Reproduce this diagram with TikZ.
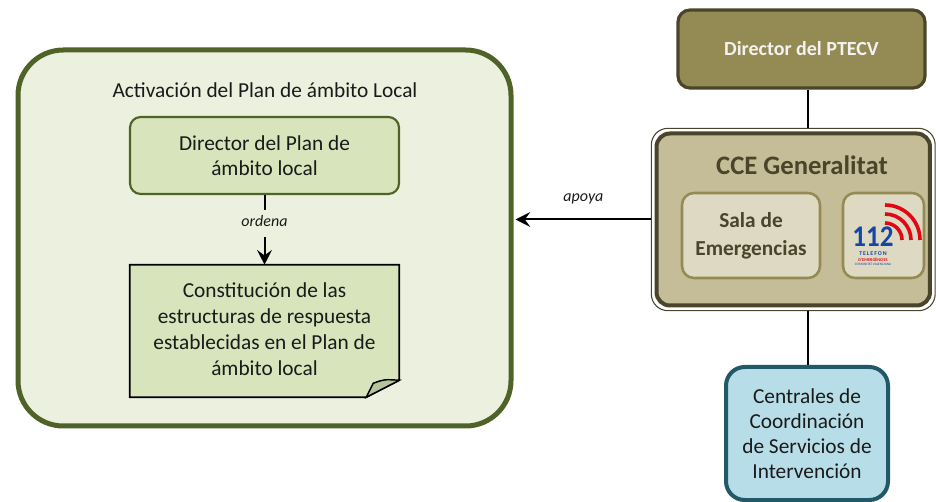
\documentclass[tikz,border=0pt]{standalone}
\usepackage{fontspec}
\setmainfont{Carlito}
\usetikzlibrary{arrows.meta,calc}
\definecolor{gfill}{HTML}{EBF1DE}
\definecolor{gline}{HTML}{4F6228}
\definecolor{gbox}{HTML}{D7E4BC}
\definecolor{gflap}{HTML}{B5C49A}
\definecolor{ofill}{HTML}{948A54}
\definecolor{oline}{HTML}{4A452A}
\definecolor{cfill}{HTML}{C4BD97}
\definecolor{sfill}{HTML}{DDD9C3}
\definecolor{bfill}{HTML}{B7DEE8}
\definecolor{bline}{HTML}{215968}
\definecolor{txt}{HTML}{1A1A1A}
\definecolor{lblue}{HTML}{1446A8}
\definecolor{lred}{HTML}{E30613}
\tikzset{
  outerbox/.style={draw=gline,fill=gfill,line width=3.75pt,rounded corners=34pt},
  dirbox/.style={draw=gline,fill=gbox,line width=1.6pt,rounded corners=8pt,align=center,text=txt,font=\fontsize{16}{18.75}\selectfont},
  ptecvbox/.style={draw=oline,fill=ofill,line width=2.4pt,rounded corners=9pt,text=white!95!black,font=\fontsize{15}{18}\selectfont\bfseries},
  ccebox/.style={draw=oline,fill=cfill,line width=3pt,rounded corners=10pt},
  salabox/.style={draw=ofill,fill=sfill,line width=1.9pt,rounded corners=9pt,align=center,text=oline,font=\fontsize{16}{21}\selectfont\bfseries},
  centbox/.style={draw=bline,fill=bfill,line width=3pt,rounded corners=14pt,align=center,text=txt,font=\fontsize{16}{18.75}\selectfont},
  conn/.style={line width=1.5pt,draw=black},
  tip/.style={-{Stealth[length=11pt,width=11pt,inset=4pt]}},
  lbl/.style={font=\fontsize{12}{14}\selectfont\itshape,text=txt,inner sep=0pt},
}
\begin{document}
\begin{tikzpicture}[x=0.75pt,y=-0.75pt]
\useasboundingbox (0,0) rectangle (936,502);
% left big box
\node[outerbox,minimum width=369.75pt,minimum height=282pt] (green) at (264.5,238) {};
\node[text=txt,font=\fontsize{16}{18}\selectfont] (title) at (265,90) {Activación del Plan de ámbito Local};
\node[dirbox,minimum width=201.75pt,minimum height=57.75pt] (dir) at (264.5,155.5) {Director del Plan de\\ámbito local};
% constitution box with folded corner
\node[minimum width=201.75pt,minimum height=99pt,inner sep=0pt] (const) at (264.5,331) {};
\draw[fill=gbox,line width=1.2pt,draw=black]
  (const.north west) -- (const.north east) -- ($(const.south east)+(0,-17)$)
  -- ($(const.south east)+(-33,0)$) -- (const.south west) -- cycle;
\draw[fill=gflap,line width=1.1pt,draw=black]
  ($(const.south east)+(-33,0)$) -- ($(const.south east)+(-26,-14)$)
  .. controls ($(const.south east)+(-15,-18)$) .. ($(const.south east)+(0,-17)$) -- cycle;
\node[inner sep=0pt,align=center,text=txt,font=\fontsize{16}{19.5}\selectfont] (consttext) at (264.5,329) {Constitución de las\\estructuras de respuesta\\establecidas en el Plan de\\ámbito local};
% ordena
\node[lbl] (ordena) at (264.5,221) {ordena};
\draw[conn] (dir.south) -- ($(ordena.north)+(0,-5)$);
\draw[conn,tip] ($(ordena.south)+(0,10)$) -- (const.north);
% right side
\node[ptecvbox,minimum width=185.25pt,minimum height=58.5pt] (ptecv) at (801.5,49) {Director del PTECV};
\node[ccebox,minimum width=205.1pt,minimum height=129pt] (cce) at (793.25,219.5) {};
\draw[oline,line width=0.8pt,rounded corners=12.5pt] ($(cce.north west)+(-3.2,-3.2)$) rectangle ($(cce.south east)+(3.2,3.2)$);
\node[text=oline,font=\fontsize{20}{22}\selectfont\bfseries] (ccet) at (802,165) {CCE Generalitat};
\node[salabox,minimum width=103.5pt,minimum height=63.75pt] (sala) at (751,235.5) {Sala de\\Emergencias};
\node[salabox,minimum width=60.75pt,minimum height=63.75pt] (logo) at (883.5,235.5) {};
% 112 logo
\coordinate (arcc) at (885,240);
\foreach \r in {17,26,35}{
  \draw[lred,line width=2.7pt] ($(arcc)+(0,-\r)$) arc[start angle=90,end angle=0,radius=\r*0.75pt];
}
\node[text=lblue,font=\fontsize{22.5}{22}\selectfont\bfseries,inner sep=0pt,xscale=0.9] (n112) at (873,237) {112};
\node[text=lblue,font=\fontsize{4.4}{5}\selectfont\bfseries,inner sep=0pt] (tel) at (873,254) {T\,E\,L\,E\,F\,O\,N};
\node[text=lred,font=\fontsize{3.2}{3.5}\selectfont\bfseries,inner sep=0pt] (dem) at (873,259.4) {D'EMERGÈNCIES};
\node[text=lblue,font=\fontsize{2.6}{3}\selectfont,inner sep=0pt] (cv) at (873,264) {COMUNITAT VALENCIANA};
\node[centbox,minimum width=121.5pt,minimum height=99.75pt] (cent) at (807,433.5) {Centrales de\\Coordinación\\de Servicios de\\Intervención};
% connectors
\coordinate (xl) at (808,0);
\draw[conn] (ptecv.south -| xl) -- ($(cce.north -| xl)+(0,-3.2)$);
\draw[conn] ($(cce.south -| xl)+(0,3.2)$) -- (cent.north -| xl);
\draw[conn,tip] ($(cce.west)+(-3.2,0)$) -- ($(green.east |- cce.west)+(2,0)$)
  node[lbl,midway,above=11pt] (apoya) {apoya};
\end{tikzpicture}
\end{document}
